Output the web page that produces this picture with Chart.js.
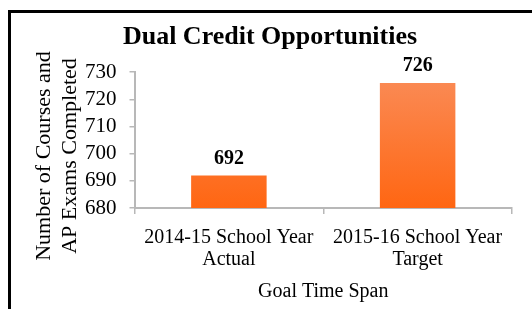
<!DOCTYPE html>
<html><head><meta charset="utf-8">
<script src="https://cdn.jsdelivr.net/npm/chart.js@4.4.1/dist/chart.umd.min.js"></script>
<style>
html,body{margin:0;padding:0;background:#fff;}
#wrap{position:relative;width:532px;height:309px;overflow:hidden;}
#frame{position:absolute;left:8px;top:10px;width:600px;height:400px;border-left:3px solid #000;border-top:3px solid #000;pointer-events:none;}
canvas{position:absolute;left:0;top:0;}
</style></head>
<body>
<div id="wrap"><canvas id="c" width="532" height="309"></canvas><div id="frame"></div></div>
<script>
const categories = [["2014-15 School Year","Actual"],["2015-16 School Year","Target"]];
const values = [692, 726];
const yTicks = [680, 690, 700, 710, 720, 730];
const titleText = "Dual Credit Opportunities";
const yTitle = ["Number of Courses and","AP Exams Completed"];
const xTitle = "Goal Time Span";

const SERIF = "'Liberation Serif','DejaVu Serif',serif";

const labelPlugin = {
  id:'labels',
  afterDatasetsDraw(chart){
    const ctx = chart.ctx;
    const meta = chart.getDatasetMeta(0);
    ctx.save();
    ctx.font = "bold 20px " + SERIF;
    ctx.fillStyle = "#000";
    ctx.textAlign = "center";
    ctx.textBaseline = "bottom";
    meta.data.forEach((bar,i)=>{
      ctx.fillText(String(values[i]), bar.x, bar.y - 7);
    });
    ctx.restore();
  },
  afterDraw(chart){
    const ctx = chart.ctx;
    ctx.save();
    ctx.font = "22px " + SERIF;
    ctx.fillStyle = "#000";
    ctx.textAlign = "center";
    ctx.textBaseline = "middle";
    ctx.translate(0, 156);
    ctx.rotate(-Math.PI/2);
    ctx.fillText(yTitle[0], 0, 44);
    ctx.fillText(yTitle[1], 0, 70);
    ctx.restore();
  }
};

new Chart(document.getElementById('c'), {
  type:'bar',
  data:{
    labels: categories,
    datasets:[{
      data: values,
      backgroundColor(ctx){
        const ch = ctx.chart;
        const a = ch.chartArea;
        if(!a) return '#ff7030';
        const g = ch.ctx.createLinearGradient(0, a.top, 0, a.bottom);
        g.addColorStop(0, '#fa8c58');
        g.addColorStop(1, '#ff6612');
        return g;
      },
      borderWidth:0,
      barPercentage:0.4,
      categoryPercentage:1.0
    }]
  },
  options:{
    responsive:false,
    animation:false,
    devicePixelRatio:1,
    layout:{padding:{left:28,right:20,top:0,bottom:9}},
    plugins:{
      legend:{display:false},
      tooltip:{enabled:false},
      title:{display:true,text:titleText,color:'#000',
        font:{family:SERIF,size:26,weight:'bold'},padding:{top:22,bottom:19}}
    },
    scales:{
      x:{
        grid:{display:true,drawOnChartArea:false,color:'#b8b8b8',lineWidth:1.5,tickLength:6,offset:true},
        border:{display:true,color:'#b8b8b8',width:2},
        ticks:{color:'#000',font:{family:SERIF,size:20,lineHeight:1.1},padding:13,maxRotation:0,autoSkip:false},
        title:{display:true,text:xTitle,color:'#000',font:{family:SERIF,size:20,lineHeight:0.8},padding:{top:0,bottom:0}}
      },
      y:{
        min:680,max:730,
        afterBuildTicks(scale){ scale.ticks = yTicks.map(v=>({value:v})); },
        afterFit(scale){ scale.width += 44; },
        grid:{display:true,drawOnChartArea:false,color:'#b8b8b8',lineWidth:1.5,tickLength:5},
        border:{display:true,color:'#b8b8b8',width:2},
        ticks:{color:'#000',font:{family:SERIF,size:21},padding:13,autoSkip:false}
      }
    }
  },
  plugins:[labelPlugin]
});
</script>
</body></html>
